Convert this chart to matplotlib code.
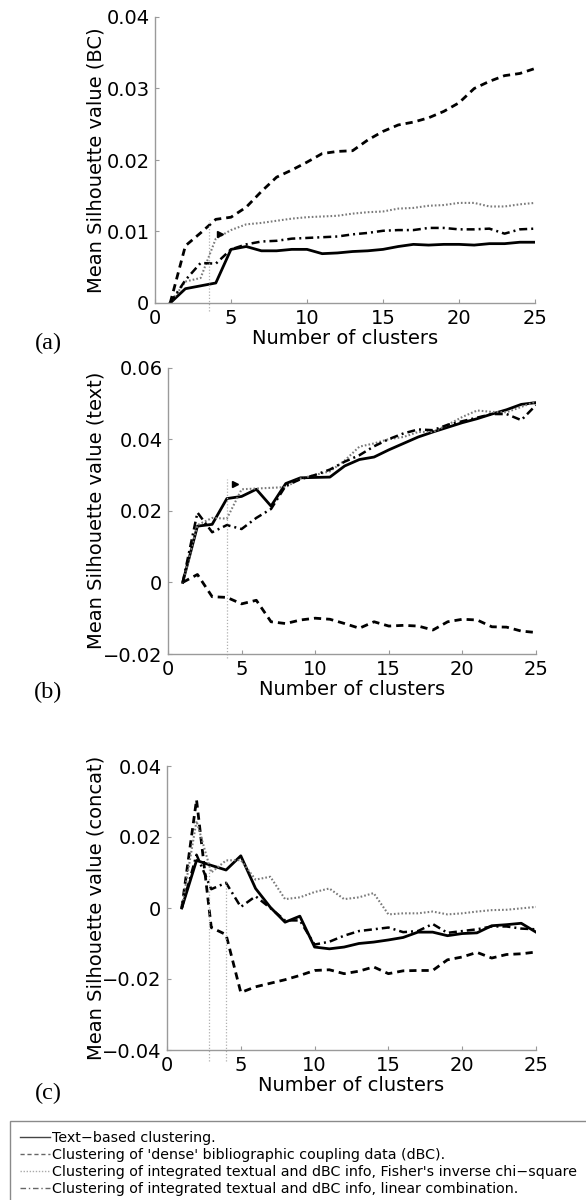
import matplotlib
matplotlib.use("Agg")
import matplotlib.pyplot as plt
from matplotlib.lines import Line2D
from matplotlib.ticker import FuncFormatter

N_CLUSTERS = list(range(1, 26))

# (a) BC
A_TEXT = [0, 0.0020, 0.0024, 0.0028, 0.0075, 0.0079, 0.0073, 0.0073, 0.0075, 0.0075, 0.0069, 0.0070, 0.0072,
          0.0073, 0.0075, 0.0079, 0.0082, 0.0081, 0.0082, 0.0082, 0.0081, 0.0083, 0.0083, 0.0085, 0.0085]
A_DBC = [0, 0.0080, 0.0098, 0.0117, 0.0120, 0.0134, 0.0156, 0.0176, 0.0186, 0.0197, 0.0209, 0.0212, 0.0213,
         0.0228, 0.0240, 0.0249, 0.0253, 0.0259, 0.0268, 0.0280, 0.0300, 0.0310, 0.0318, 0.0321, 0.0328]
A_FISHER = [0, 0.0030, 0.0035, 0.0090, 0.0102, 0.0110, 0.0112, 0.0115, 0.0118, 0.0120, 0.0121, 0.0122, 0.0125,
            0.0127, 0.0128, 0.0132, 0.0133, 0.0136, 0.0137, 0.0140, 0.0140, 0.0135, 0.0135, 0.0138, 0.0140]
A_LINEAR = [0, 0.0032, 0.0056, 0.0055, 0.0075, 0.0082, 0.0086, 0.0087, 0.0090, 0.0091, 0.0092, 0.0093, 0.0096,
            0.0098, 0.0101, 0.0102, 0.0102, 0.0105, 0.0105, 0.0103, 0.0103, 0.0104, 0.0097, 0.0103, 0.0104]

# (b) text
B_TEXT = [0, 0.0157, 0.0162, 0.0234, 0.0240, 0.0260, 0.0213, 0.0276, 0.0292, 0.0293, 0.0294, 0.0325, 0.0343,
          0.0350, 0.0370, 0.0388, 0.0406, 0.0420, 0.0433, 0.0446, 0.0457, 0.0470, 0.0482, 0.0497, 0.0502]
B_DBC = [0, 0.0022, -0.0040, -0.0042, -0.0060, -0.0050, -0.0110, -0.0115, -0.0105, -0.0100, -0.0103, -0.0115,
         -0.0128, -0.0110, -0.0122, -0.0120, -0.0122, -0.0133, -0.0110, -0.0103, -0.0105, -0.0124, -0.0125,
         -0.0136, -0.0140]
B_FISHER = [0, 0.0160, 0.0180, 0.0178, 0.0260, 0.0262, 0.0264, 0.0266, 0.0290, 0.0300, 0.0310, 0.0340, 0.0379,
            0.0388, 0.0400, 0.0406, 0.0420, 0.0420, 0.0440, 0.0462, 0.0480, 0.0476, 0.0475, 0.0490, 0.0505]
B_LINEAR = [0, 0.0195, 0.0140, 0.0160, 0.0149, 0.0180, 0.0205, 0.0270, 0.0288, 0.0300, 0.0315, 0.0337, 0.0355,
            0.0380, 0.0400, 0.0416, 0.0427, 0.0425, 0.0440, 0.0450, 0.0460, 0.0470, 0.0470, 0.0453, 0.0495]

# (c) concat
C_TEXT = [0, 0.0134, 0.0120, 0.0107, 0.0147, 0.0055, 0.0002, -0.0040, -0.0023, -0.0110, -0.0115, -0.0110,
          -0.0100, -0.0096, -0.0090, -0.0083, -0.0068, -0.0068, -0.0078, -0.0072, -0.0070, -0.0050, -0.0047,
          -0.0043, -0.0068]
C_DBC = [0, 0.0305, -0.0055, -0.0075, -0.0238, -0.0222, -0.0212, -0.0202, -0.0190, -0.0176, -0.0174, -0.0185,
         -0.0178, -0.0166, -0.0185, -0.0177, -0.0176, -0.0176, -0.0146, -0.0138, -0.0125, -0.0141, -0.0131,
         -0.0129, -0.0124]
C_FISHER = [0, 0.0245, 0.0100, 0.0134, 0.0135, 0.0080, 0.0088, 0.0025, 0.0030, 0.0045, 0.0055, 0.0025, 0.0030,
            0.0042, -0.0018, -0.0015, -0.0015, -0.0010, -0.0018, -0.0015, -0.0010, -0.0006, -0.0005, -0.0001,
            0.0003]
C_LINEAR = [0, 0.0150, 0.0053, 0.0071, 0.0003, 0.0033, 0.0000, -0.0035, -0.0035, -0.0103, -0.0095, -0.0078,
            -0.0065, -0.0060, -0.0055, -0.0068, -0.0065, -0.0045, -0.0070, -0.0065, -0.0060, -0.0052, -0.0052,
            -0.0058, -0.0060]

# dotted guide lines: (x, y_low, y_high)
A_GUIDES = [(3.57, -0.0011, 0.0116)]
B_GUIDES = [(4.0, -0.021, 0.029)]
C_GUIDES = [(2.83, -0.043, 0.0113), (3.98, -0.043, 0.0073)]
A_ARROW = (4.3, 0.0097)
B_ARROW = (4.55, 0.0276)

LEGEND_LABELS = [
    "Text\u2212based clustering.",
    "Clustering of 'dense' bibliographic coupling data (dBC).",
    "Clustering of integrated textual and dBC info, Fisher's inverse chi\u2212square",
    "Clustering of integrated textual and dBC info, linear combination.",
]

plt.rcParams["font.family"] = "DejaVu Sans"
SPINE = "#9a9a9a"


def fmt(v, pos):
    s = "%g" % round(v, 4)
    return s.replace("-", "\u2212")


def panel(fig, rect, series, ylim, yticks, ylabel, guides, arrow, letter, letter_y, label_x):
    ax = fig.add_axes(rect)
    text, dbc, fisher, linear = series
    ax.plot(N_CLUSTERS, text, color="black", lw=2.0)
    ax.plot(N_CLUSTERS, dbc, color="black", lw=2.0, dashes=(2.6, 1.8))
    ax.plot(N_CLUSTERS, fisher, color="#7a7a7a", lw=1.5, dashes=(0.8, 1.0))
    ax.plot(N_CLUSTERS, linear, color="black", lw=1.8, dashes=(3.2, 1.6, 0.8, 1.6))
    for gx, y0, y1 in guides:
        ax.vlines(gx, y0, y1, color="#b0b0b0", lw=0.9, linestyles=(0, (1, 1.5)), clip_on=False)
    if arrow:
        ax.plot([arrow[0]], [arrow[1]], marker=">", color="black", ms=5)
    ax.set_xlim(0, 25)
    ax.set_ylim(*ylim)
    ax.set_xticks([0, 5, 10, 15, 20, 25])
    ax.set_yticks(yticks)
    ax.yaxis.set_major_formatter(FuncFormatter(fmt))
    for s in ["top", "right"]:
        ax.spines[s].set_visible(False)
    for s in ["left", "bottom"]:
        ax.spines[s].set_color(SPINE)
        ax.spines[s].set_linewidth(1.0)
    ax.tick_params(direction="in", length=3, color=SPINE, labelsize=14, pad=4)
    ax.set_xlabel("Number of clusters", fontsize=14, labelpad=1)
    ax.set_ylabel(ylabel, fontsize=14)
    ax.yaxis.set_label_coords(label_x, 0.5)
    fig.text(48 / 586, letter_y, letter, fontsize=17.5, family="Liberation Serif", ha="center", va="center")
    return ax


fig = plt.figure(figsize=(5.86, 12), dpi=100)

ax_a = panel(fig, [155 / 586, 1 - 303 / 1200, 380 / 586, 286 / 1200], (A_TEXT, A_DBC, A_FISHER, A_LINEAR),
             (0, 0.04), [0, 0.01, 0.02, 0.03, 0.04], "Mean Silhouette value (BC)", A_GUIDES, A_ARROW,
             "(a)", 1 - 343 / 1200, (106 - 155) / 380)
ax_b = panel(fig, [168 / 586, 1 - 654 / 1200, 368 / 586, 286.5 / 1200], (B_TEXT, B_DBC, B_FISHER, B_LINEAR),
             (-0.02, 0.06), [-0.02, 0, 0.02, 0.04, 0.06], "Mean Silhouette value (text)", B_GUIDES, B_ARROW,
             "(b)", 1 - 692 / 1200, (106 - 168) / 368)
ax_c = panel(fig, [167 / 586, 1 - 1050 / 1200, 369 / 586, 284 / 1200], (C_TEXT, C_DBC, C_FISHER, C_LINEAR),
             (-0.04, 0.04), [-0.04, -0.02, 0, 0.02, 0.04], "Mean Silhouette value (concat)", C_GUIDES, None,
             "(c)", 1 - 1093 / 1200, (106 - 167) / 369)

# thin proxy lines for the legend box
handles = [
    Line2D([], [], color="#444444", lw=1.0),
    Line2D([], [], color="#666666", lw=1.0, dashes=(3, 2)),
    Line2D([], [], color="#aaaaaa", lw=1.0, dashes=(1, 1.2)),
    Line2D([], [], color="#666666", lw=1.0, dashes=(4, 2, 1, 2)),
]
# box runs past the right edge of the figure, as in the original crop
leg = fig.legend(handles, LEGEND_LABELS, loc="upper left", mode="expand",
                 bbox_to_anchor=(10 / 586, 1 - 1121 / 1200, 1.0, 0), borderaxespad=0, fontsize=10.25,
                 handlelength=2.1, handletextpad=0.15, labelspacing=0.2, borderpad=0.7,
                 fancybox=False, framealpha=1)
leg.get_frame().set_edgecolor("#8a8a8a")
leg.get_frame().set_linewidth(1.0)

fig.savefig("out.png", dpi=100)
